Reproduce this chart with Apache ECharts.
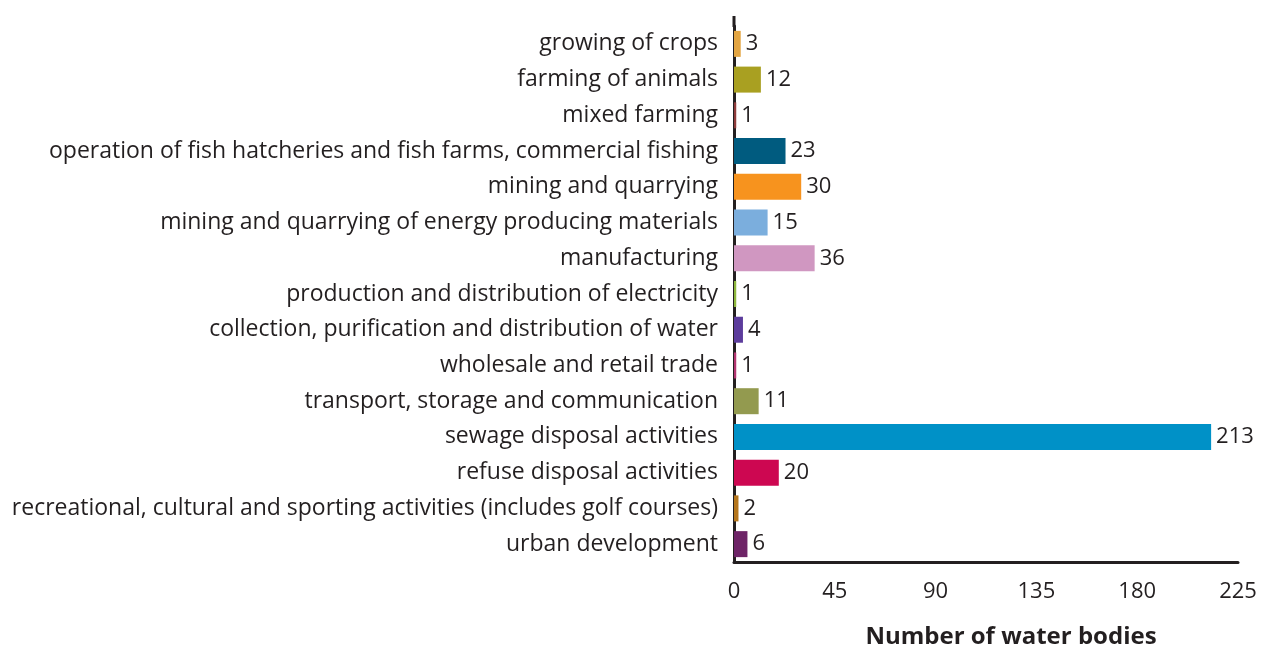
<!DOCTYPE html>
<html><head><meta charset="utf-8">
<script src="https://cdn.jsdelivr.net/npm/echarts@6/dist/echarts.min.js"></script>
<style>html,body{margin:0;padding:0;background:#fff}#c{width:1261px;height:650px}</style>
</head><body><div id="c"></div>
<script>
const categories = [
  "growing of crops",
  "farming of animals",
  "mixed farming",
  "operation of fish hatcheries and fish farms, commercial fishing",
  "mining and quarrying",
  "mining and quarrying of energy producing materials",
  "manufacturing",
  "production and distribution of electricity",
  "collection, purification and distribution of water",
  "wholesale and retail trade",
  "transport, storage and communication",
  "sewage disposal activities",
  "refuse disposal activities",
  "recreational, cultural and sporting activities (includes golf courses)",
  "urban development"
];
const values = [3, 12, 1, 23, 30, 15, 36, 1, 4, 1, 11, 213, 20, 2, 6];
const colors = ["#E3A542","#A9A021","#8E3B3B","#005B7F","#F7931E","#7BAEDD","#D097C1","#8DB63C","#5C3C9C","#B23470","#939A4F","#0091C7","#CD0751","#B5761C","#6E2467"];
const xTicks = [0, 45, 90, 135, 180, 225];
const axisTitle = "Number of water bodies";

const font = "'Open Sans', sans-serif";
const chart = echarts.init(document.getElementById('c'), null, {renderer: 'canvas'});
chart.setOption({
  animation: false,
  grid: {left: 734, right: 23, top: 26, bottom: 88, containLabel: false, outerBoundsMode: 'none'},
  xAxis: {
    type: 'value', min: xTicks[0], max: xTicks[xTicks.length-1], interval: 45,
    splitLine: {show: false},
    axisLine: {show: true, lineStyle: {color: '#231f20', width: 3}},
    axisTick: {show: false},
    axisLabel: {color: '#231f20', fontSize: 22, fontFamily: font, margin: 19},
    name: axisTitle, nameLocation: 'middle', nameGap: 63,
    nameTextStyle: {color: '#231f20', fontSize: 24, fontWeight: 'bold', fontFamily: font, padding: [0, 0, 0, 50]}
  },
  yAxis: {
    type: 'category', inverse: true, data: categories,
    axisLine: {show: true, lineStyle: {color: '#231f20', width: 3}},
    axisTick: {show: false},
    axisLabel: {color: '#231f20', fontSize: 23, fontFamily: font, margin: 16}
  },
  series: [{
    type: 'bar',
    barWidth: 26,
    data: values.map((v, i) => ({value: v, itemStyle: {color: colors[i]}})),
    label: {show: true, position: 'right', distance: 5, color: '#231f20', fontSize: 22, fontFamily: font}
  }],
  graphic: [{type: 'line', shape: {x1: 734, y1: 16, x2: 734, y2: 27}, style: {stroke: '#231f20', lineWidth: 3}}]
});
</script></body></html>
